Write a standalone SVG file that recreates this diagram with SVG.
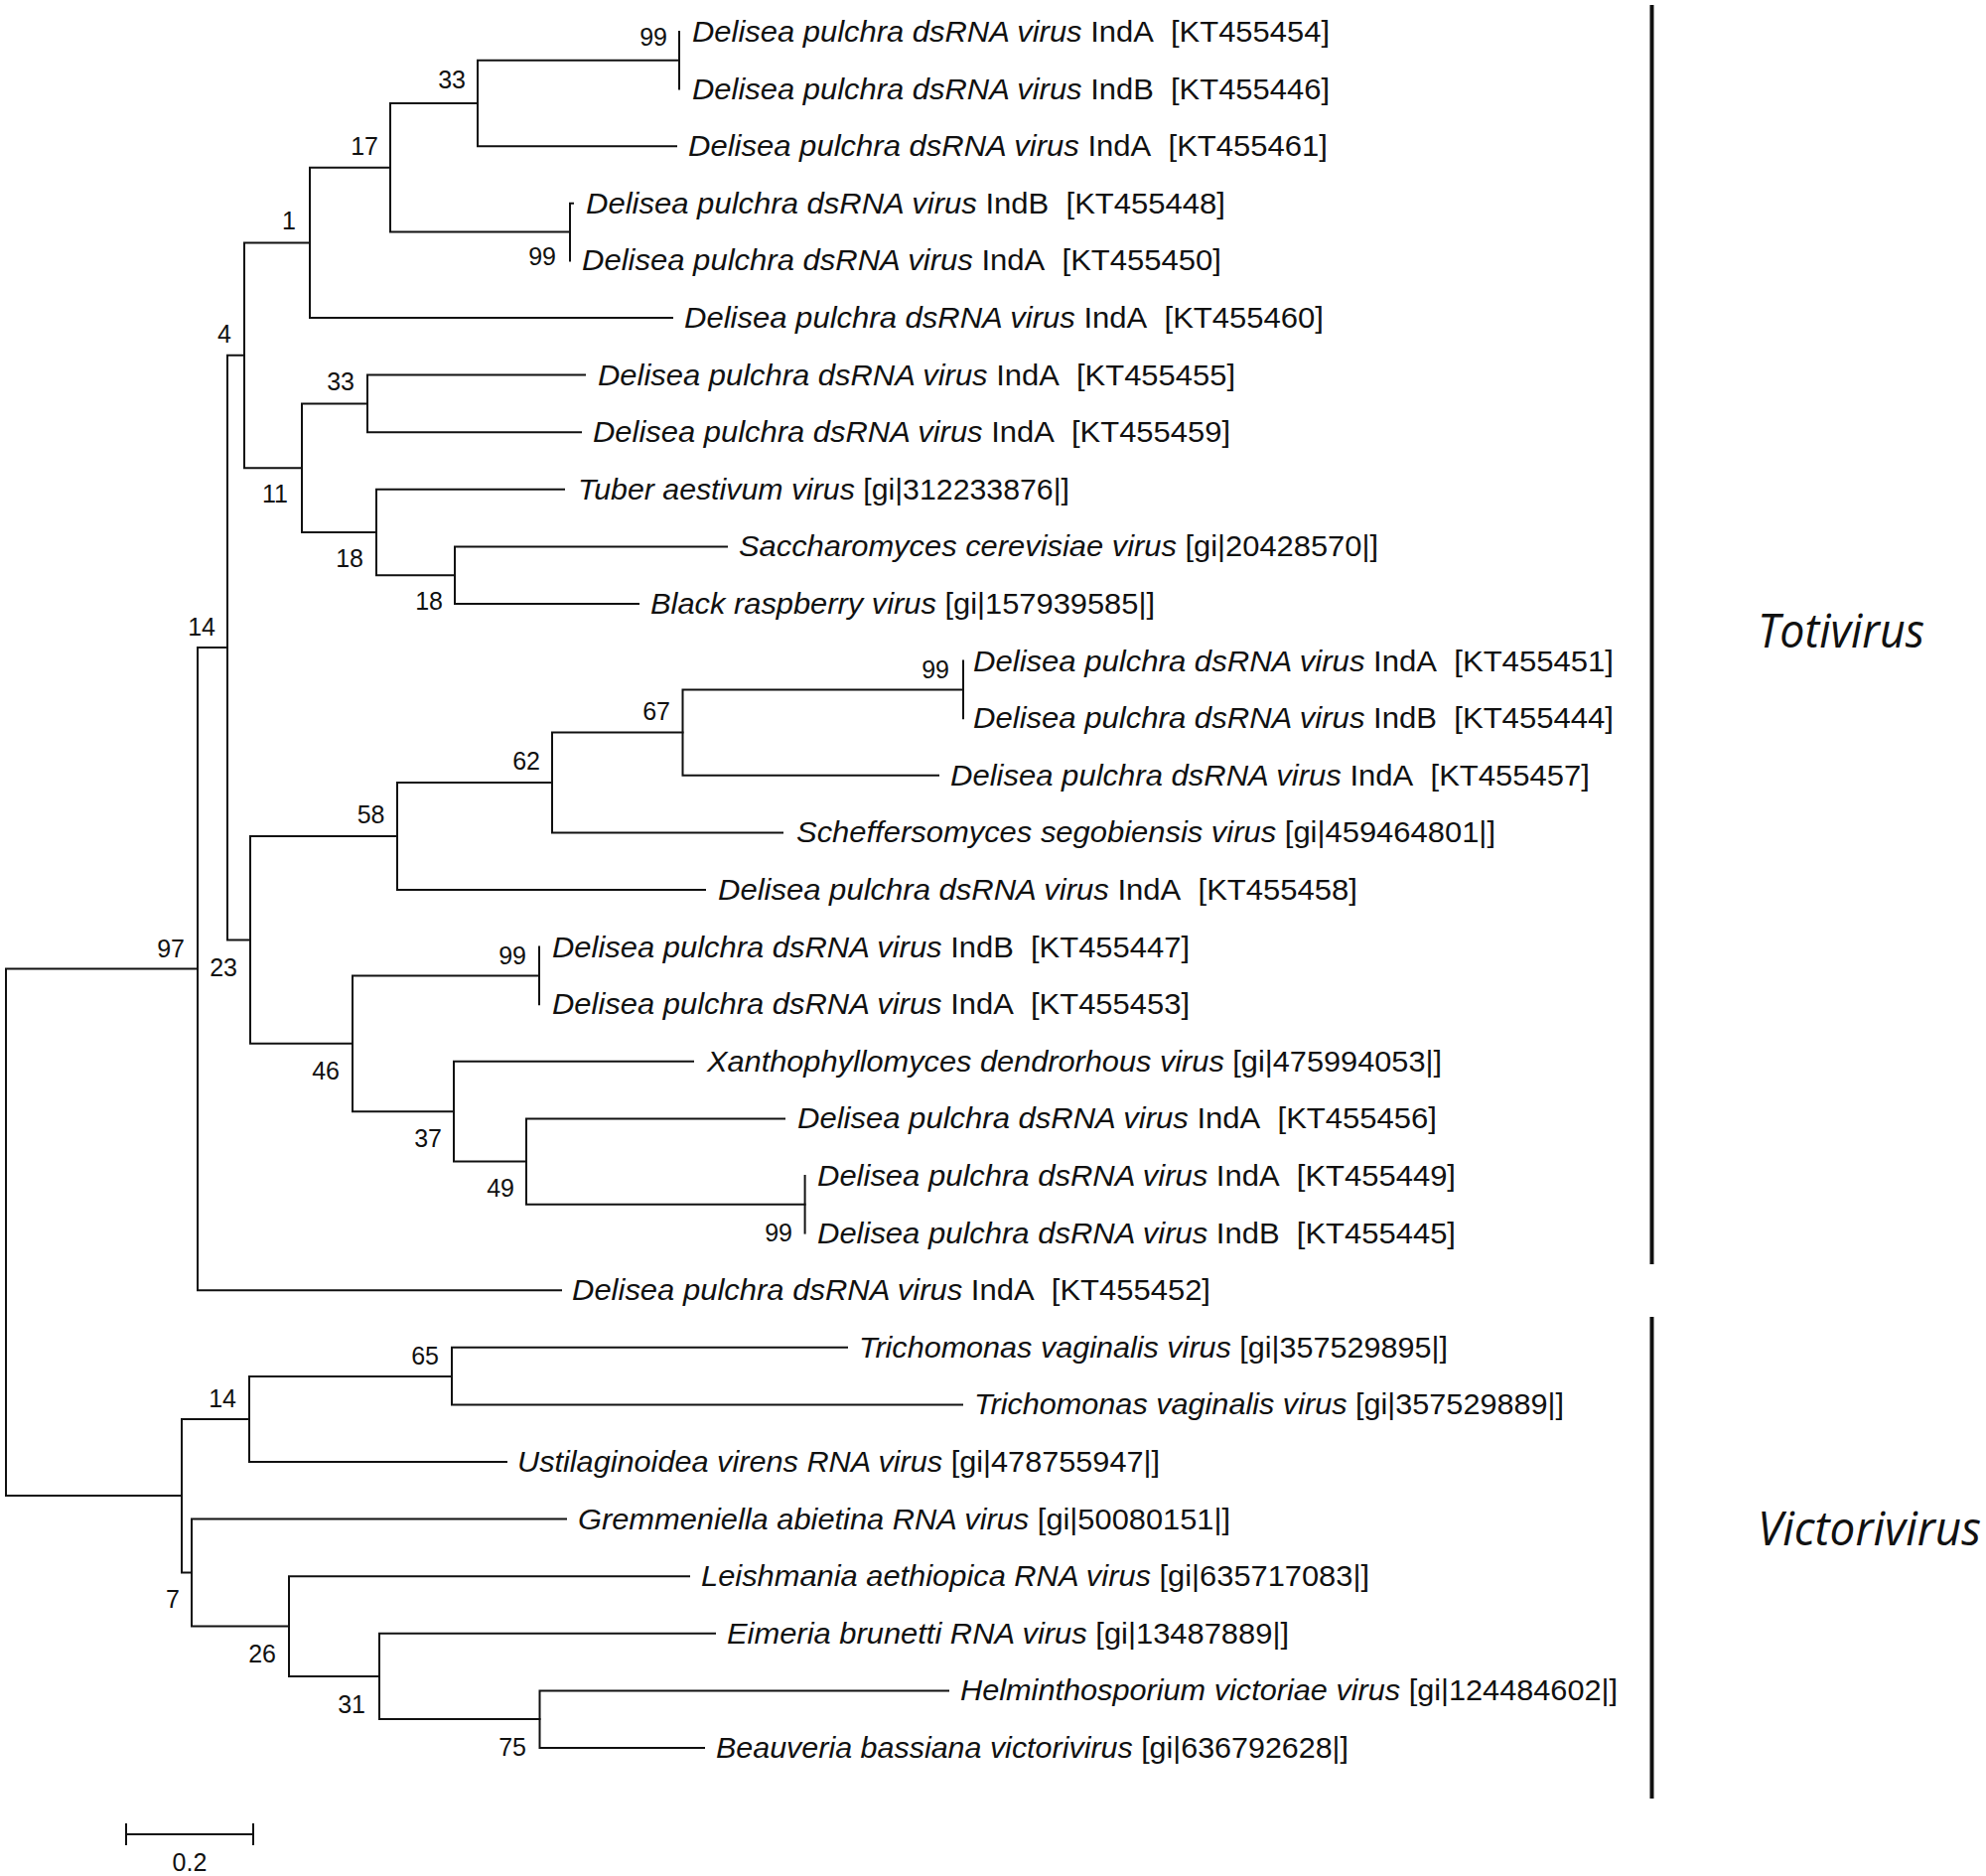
<svg xmlns="http://www.w3.org/2000/svg" width="2000" height="1889" viewBox="0 0 2000 1889">
<style>
.br{fill:none;stroke:#111;stroke-width:2;stroke-linecap:square}
.bar{fill:#111}
.lf{font-family:"Liberation Sans",Arial,sans-serif;font-size:29px;fill:#111}
.i{font-style:italic}
.bs{font-family:"Liberation Sans",Arial,sans-serif;font-size:25px;fill:#111;text-anchor:end}
.sc{font-family:"Liberation Sans",Arial,sans-serif;font-size:25px;fill:#111;text-anchor:middle}
.grp{font-family:"Open Sans","Noto Sans",sans-serif;font-style:italic;font-size:47px;fill:#111}
</style>
<rect width="2000" height="1889" fill="#fff"/>
<g id="connectors">
<path class="br" d="M6 975.6V1506M6 975.6H199M6 1506H183"/>
<path class="br" d="M199 652.1V1299.2M199 652.1H229M199 1299.2H565"/>
<path class="br" d="M229 357.8V946.4M229 357.8H246M229 946.4H252"/>
<path class="br" d="M246 244.4V471.2M246 244.4H312M246 471.2H304"/>
<path class="br" d="M312 168.8V320M312 168.8H393M312 320H677"/>
<path class="br" d="M393 104V233.6M393 104H481M393 233.6H574"/>
<path class="br" d="M481 60.8V147.2M481 60.8H684M481 147.2H681"/>
<path class="br" d="M684 32V89.6"/>
<path class="br" d="M574 204.8V262.4M574 204.8H577"/>
<path class="br" d="M304 406.4V536M304 406.4H370M304 536H379"/>
<path class="br" d="M370 377.6V435.2M370 377.6H589M370 435.2H585"/>
<path class="br" d="M379 492.8V579.2M379 492.8H568M379 579.2H458"/>
<path class="br" d="M458 550.4V608M458 550.4H732M458 608H643"/>
<path class="br" d="M252 842V1050.8M252 842H400M252 1050.8H355"/>
<path class="br" d="M400 788V896M400 788H556M400 896H710"/>
<path class="br" d="M556 737.6V838.4M556 737.6H687.5M556 838.4H788"/>
<path class="br" d="M687.5 694.4V780.8M687.5 694.4H970M687.5 780.8H945"/>
<path class="br" d="M970 665.6V723.2"/>
<path class="br" d="M355 982.4V1119.2M355 982.4H543M355 1119.2H457"/>
<path class="br" d="M543 953.6V1011.2"/>
<path class="br" d="M457 1068.8V1169.6M457 1068.8H698M457 1169.6H530"/>
<path class="br" d="M530 1126.4V1212.8M530 1126.4H790M530 1212.8H810.6"/>
<path class="br" d="M810.6 1184V1241.6"/>
<path class="br" d="M183 1429V1583.6M183 1429H251M183 1583.6H193"/>
<path class="br" d="M251 1386V1472M251 1386H455M251 1472H510"/>
<path class="br" d="M455 1356.8V1414.4M455 1356.8H853M455 1414.4H969"/>
<path class="br" d="M193 1529.6V1637.6M193 1529.6H570M193 1637.6H291"/>
<path class="br" d="M291 1587.2V1688M291 1587.2H694M291 1688H382"/>
<path class="br" d="M382 1644.8V1731M382 1644.8H720M382 1731H543.5"/>
<path class="br" d="M543.5 1702.4V1760M543.5 1702.4H955M543.5 1760H709"/>
</g>
<g id="support">
<g id="n99a"><text class="bs" x="672" y="46">99</text></g>
<g id="n33a"><text class="bs" x="469" y="89">33</text></g>
<g id="n17"><text class="bs" x="381" y="155.5">17</text></g>
<g id="n1"><text class="bs" x="298" y="231">1</text></g>
<g id="n99b"><text class="bs" x="560" y="267">99</text></g>
<g id="n4"><text class="bs" x="233" y="345">4</text></g>
<g id="n33b"><text class="bs" x="357" y="393">33</text></g>
<g id="n11"><text class="bs" x="290" y="506">11</text></g>
<g id="n18a"><text class="bs" x="366" y="571">18</text></g>
<g id="n18b"><text class="bs" x="446" y="613.6">18</text></g>
<g id="n14t"><text class="bs" x="217" y="639.7">14</text></g>
<g id="n67"><text class="bs" x="675" y="725">67</text></g>
<g id="n62"><text class="bs" x="544" y="775">62</text></g>
<g id="n58"><text class="bs" x="387.5" y="829">58</text></g>
<g id="n97"><text class="bs" x="186" y="964">97</text></g>
<g id="n23"><text class="bs" x="239" y="982.6">23</text></g>
<g id="n99c"><text class="bs" x="530" y="970.5">99</text></g>
<g id="n46"><text class="bs" x="342" y="1086.6">46</text></g>
<g id="n37"><text class="bs" x="445" y="1155">37</text></g>
<g id="n49"><text class="bs" x="518" y="1205">49</text></g>
<g id="n99d"><text class="bs" x="956" y="682.6">99</text></g>
<g id="n99e"><text class="bs" x="798" y="1249.5">99</text></g>
<g id="n65"><text class="bs" x="442" y="1373.5">65</text></g>
<g id="n14v"><text class="bs" x="238" y="1417">14</text></g>
<g id="n7"><text class="bs" x="181" y="1619">7</text></g>
<g id="n26"><text class="bs" x="278" y="1674">26</text></g>
<g id="n31"><text class="bs" x="368" y="1724.7">31</text></g>
<g id="n75"><text class="bs" x="530" y="1767.5">75</text></g>
</g>
<g id="leaves">
<g id="leaf0"><text class="lf" x="697" y="42" textLength="642" lengthAdjust="spacingAndGlyphs"><tspan class="i">Delisea pulchra dsRNA virus</tspan> IndA&#160; [KT455454]</text></g>
<g id="leaf1"><text class="lf" x="697" y="99.6" textLength="642" lengthAdjust="spacingAndGlyphs"><tspan class="i">Delisea pulchra dsRNA virus</tspan> IndB&#160; [KT455446]</text></g>
<g id="leaf2"><text class="lf" x="693" y="157.2" textLength="644" lengthAdjust="spacingAndGlyphs"><tspan class="i">Delisea pulchra dsRNA virus</tspan> IndA&#160; [KT455461]</text></g>
<g id="leaf3"><text class="lf" x="590" y="214.8" textLength="644" lengthAdjust="spacingAndGlyphs"><tspan class="i">Delisea pulchra dsRNA virus</tspan> IndB&#160; [KT455448]</text></g>
<g id="leaf4"><text class="lf" x="586" y="272.4" textLength="644" lengthAdjust="spacingAndGlyphs"><tspan class="i">Delisea pulchra dsRNA virus</tspan> IndA&#160; [KT455450]</text></g>
<g id="leaf5"><text class="lf" x="689" y="330" textLength="644" lengthAdjust="spacingAndGlyphs"><tspan class="i">Delisea pulchra dsRNA virus</tspan> IndA&#160; [KT455460]</text></g>
<g id="leaf6"><text class="lf" x="602" y="387.6" textLength="642" lengthAdjust="spacingAndGlyphs"><tspan class="i">Delisea pulchra dsRNA virus</tspan> IndA&#160; [KT455455]</text></g>
<g id="leaf7"><text class="lf" x="597" y="445.2" textLength="642" lengthAdjust="spacingAndGlyphs"><tspan class="i">Delisea pulchra dsRNA virus</tspan> IndA&#160; [KT455459]</text></g>
<g id="leaf8"><text class="lf" x="582" y="502.8" textLength="495" lengthAdjust="spacingAndGlyphs"><tspan class="i">Tuber aestivum virus</tspan> [gi|312233876|]</text></g>
<g id="leaf9"><text class="lf" x="744" y="560.4" textLength="644" lengthAdjust="spacingAndGlyphs"><tspan class="i">Saccharomyces cerevisiae virus</tspan> [gi|20428570|]</text></g>
<g id="leaf10"><text class="lf" x="655" y="618" textLength="508" lengthAdjust="spacingAndGlyphs"><tspan class="i">Black raspberry virus</tspan> [gi|157939585|]</text></g>
<g id="leaf11"><text class="lf" x="980" y="675.6" textLength="645" lengthAdjust="spacingAndGlyphs"><tspan class="i">Delisea pulchra dsRNA virus</tspan> IndA&#160; [KT455451]</text></g>
<g id="leaf12"><text class="lf" x="980" y="733.2" textLength="645" lengthAdjust="spacingAndGlyphs"><tspan class="i">Delisea pulchra dsRNA virus</tspan> IndB&#160; [KT455444]</text></g>
<g id="leaf13"><text class="lf" x="957" y="790.8" textLength="644" lengthAdjust="spacingAndGlyphs"><tspan class="i">Delisea pulchra dsRNA virus</tspan> IndA&#160; [KT455457]</text></g>
<g id="leaf14"><text class="lf" x="802" y="848.4" textLength="704" lengthAdjust="spacingAndGlyphs"><tspan class="i">Scheffersomyces segobiensis virus</tspan> [gi|459464801|]</text></g>
<g id="leaf15"><text class="lf" x="723" y="906" textLength="644" lengthAdjust="spacingAndGlyphs"><tspan class="i">Delisea pulchra dsRNA virus</tspan> IndA&#160; [KT455458]</text></g>
<g id="leaf16"><text class="lf" x="556" y="963.6" textLength="642" lengthAdjust="spacingAndGlyphs"><tspan class="i">Delisea pulchra dsRNA virus</tspan> IndB&#160; [KT455447]</text></g>
<g id="leaf17"><text class="lf" x="556" y="1021.2" textLength="642" lengthAdjust="spacingAndGlyphs"><tspan class="i">Delisea pulchra dsRNA virus</tspan> IndA&#160; [KT455453]</text></g>
<g id="leaf18"><text class="lf" x="712" y="1078.8" textLength="740" lengthAdjust="spacingAndGlyphs"><tspan class="i">Xanthophyllomyces dendrorhous virus</tspan> [gi|475994053|]</text></g>
<g id="leaf19"><text class="lf" x="803" y="1136.4" textLength="644" lengthAdjust="spacingAndGlyphs"><tspan class="i">Delisea pulchra dsRNA virus</tspan> IndA&#160; [KT455456]</text></g>
<g id="leaf20"><text class="lf" x="823" y="1194" textLength="643" lengthAdjust="spacingAndGlyphs"><tspan class="i">Delisea pulchra dsRNA virus</tspan> IndA&#160; [KT455449]</text></g>
<g id="leaf21"><text class="lf" x="823" y="1251.6" textLength="643" lengthAdjust="spacingAndGlyphs"><tspan class="i">Delisea pulchra dsRNA virus</tspan> IndB&#160; [KT455445]</text></g>
<g id="leaf22"><text class="lf" x="576" y="1309.2" textLength="643" lengthAdjust="spacingAndGlyphs"><tspan class="i">Delisea pulchra dsRNA virus</tspan> IndA&#160; [KT455452]</text></g>
<g id="leaf23"><text class="lf" x="865" y="1366.8" textLength="593" lengthAdjust="spacingAndGlyphs"><tspan class="i">Trichomonas vaginalis virus</tspan> [gi|357529895|]</text></g>
<g id="leaf24"><text class="lf" x="981" y="1424.4" textLength="594" lengthAdjust="spacingAndGlyphs"><tspan class="i">Trichomonas vaginalis virus</tspan> [gi|357529889|]</text></g>
<g id="leaf25"><text class="lf" x="521" y="1482" textLength="647" lengthAdjust="spacingAndGlyphs"><tspan class="i">Ustilaginoidea virens RNA virus</tspan> [gi|478755947|]</text></g>
<g id="leaf26"><text class="lf" x="582" y="1539.6" textLength="657" lengthAdjust="spacingAndGlyphs"><tspan class="i">Gremmeniella abietina RNA virus</tspan> [gi|50080151|]</text></g>
<g id="leaf27"><text class="lf" x="706" y="1597.2" textLength="673" lengthAdjust="spacingAndGlyphs"><tspan class="i">Leishmania aethiopica RNA virus</tspan> [gi|635717083|]</text></g>
<g id="leaf28"><text class="lf" x="732" y="1654.8" textLength="566" lengthAdjust="spacingAndGlyphs"><tspan class="i">Eimeria brunetti RNA virus</tspan> [gi|13487889|]</text></g>
<g id="leaf29"><text class="lf" x="967" y="1712.4" textLength="662" lengthAdjust="spacingAndGlyphs"><tspan class="i">Helminthosporium victoriae virus</tspan> [gi|124484602|]</text></g>
<g id="leaf30"><text class="lf" x="721" y="1770" textLength="637" lengthAdjust="spacingAndGlyphs"><tspan class="i">Beauveria bassiana victorivirus</tspan> [gi|636792628|]</text></g>
</g>
<g id="clade-totivirus">
<rect class="bar" x="1661.5" y="5" width="4" height="1268"/>
<text class="grp" x="1770" y="652" textLength="168" lengthAdjust="spacingAndGlyphs">Totivirus</text>
</g>
<g id="clade-victorivirus">
<rect class="bar" x="1661.5" y="1326" width="4" height="485"/>
<text class="grp" x="1770" y="1556" textLength="225" lengthAdjust="spacingAndGlyphs">Victorivirus</text>
</g>
<g id="scalebar">
<path class="br" d="M127 1847H255M127 1837V1857M255 1837V1857"/>
<text class="sc" x="191" y="1884">0.2</text>
</g>
</svg>
